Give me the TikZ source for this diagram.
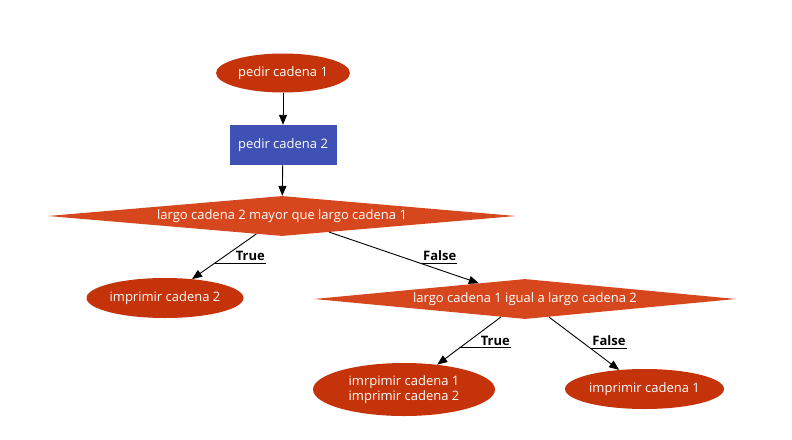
\documentclass[tikz,border=0pt]{standalone}
\usepackage{fontspec}
\setmainfont{Open Sans}
\usetikzlibrary{shapes.geometric}
\usetikzlibrary{arrows.meta}
\usetikzlibrary{positioning}

\definecolor{elipse}{RGB}{196,51,9}
\definecolor{rombo}{RGB}{214,71,29}
\definecolor{caja}{RGB}{63,81,181}

\tikzset{
  inicio/.style={ellipse, fill=elipse, text=white, inner sep=0pt},
  proceso/.style={rectangle, fill=caja, text=white, inner sep=0pt},
  decision/.style={diamond, fill=rombo, text=white, inner sep=0pt},
  flecha/.style={draw, line width=0.9pt, -{Triangle[length=10pt,width=8pt]}},
  etiqueta/.style={font=\fontsize{13}{14.5}\selectfont\bfseries, inner xsep=1pt, inner ysep=2.5pt, text=black},
  subraya/.style={draw, line width=0.9pt},
}

\begin{document}
\begin{tikzpicture}[x=1pt,y=-1pt,font=\fontsize{13}{14.5}\selectfont]
\useasboundingbox (0,0) rectangle (792,439);
% the nodes
\node[inicio, minimum width=134pt, minimum height=39pt] (c1) at (283,73) {pedir cadena 1};
\node[proceso, minimum width=107pt, minimum height=40pt] (c2) at (283,145) {pedir cadena 2};
\node[decision, aspect=11.7, minimum width=468pt, minimum height=40pt] (d1) at (282,216) {largo cadena 2 mayor que largo cadena 1};
\node[inicio, minimum width=157pt, minimum height=40pt] (i2) at (165,298) {imprimir cadena 2};
\node[decision, aspect=10.55, minimum width=422pt, minimum height=40pt] (d2) at (525,299) {largo cadena 1 igual a largo cadena 2};
\node[inicio, minimum width=182pt, minimum height=53pt, align=center] (i12) at (404,389.5) {imrpimir cadena 1\\imprimir cadena 2};
\node[inicio, minimum width=159pt, minimum height=40pt] (i1) at (644.5,389) {imprimir cadena 1};
% the arrows
\draw[flecha] (c1) -- (c2);
\draw[flecha] (c2) -- (d1);
\draw[flecha] (d1) -- coordinate[pos=0.65] (v1) (i2);
\draw[flecha] (d1) -- coordinate[pos=0.62] (v2) (d2);
\draw[flecha] (d2) -- coordinate[pos=0.65] (v3) (i12);
\draw[flecha] (d2) -- coordinate[pos=0.59] (v4) (i1);
% the labels
\node[etiqueta, above right=0pt and 20pt of v1] (t1) {True};
\draw[subraya] (v1) -- (v1 -| t1.south east);
\node[etiqueta, above right=0pt and 0pt of v2] (f1) {False};
\draw[subraya] (v2) -- (v2 -| f1.south east);
\node[etiqueta, above right=0pt and 20pt of v3] (t2) {True};
\draw[subraya] (v3) -- (v3 -| t2.south east);
\node[etiqueta, above right=0pt and 1pt of v4] (f2) {False};
\draw[subraya] (v4) -- (v4 -| f2.south east);
\end{tikzpicture}
\end{document}
